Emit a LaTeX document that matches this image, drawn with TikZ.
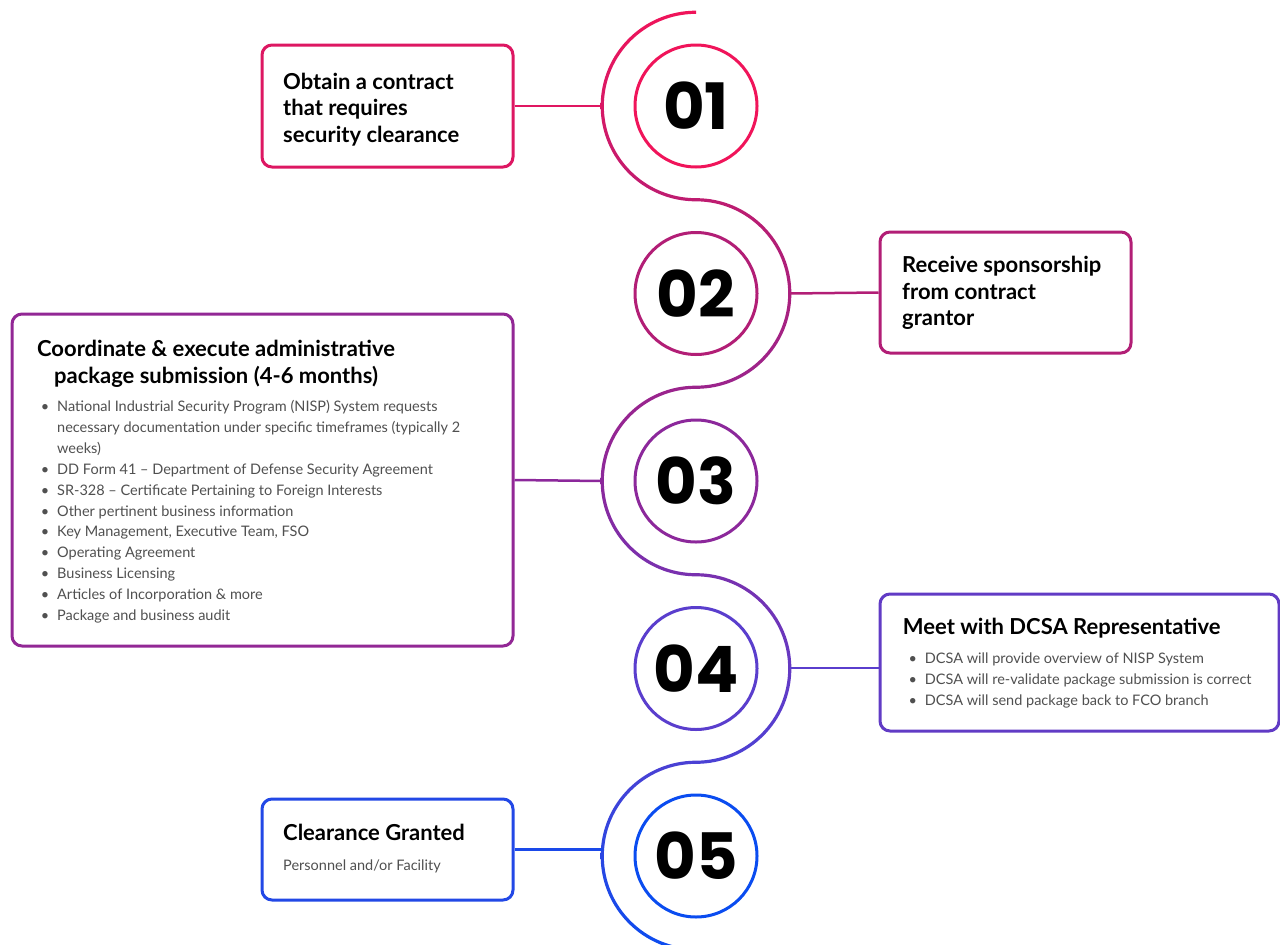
\documentclass[tikz,border=0pt]{standalone}
\usepackage{fontspec}
\setmainfont{Lato}
\newfontfamily\numfont{Poppins}
\usetikzlibrary{positioning}

% step colours, top to bottom
\definecolor{stepA}{RGB}{240,20,90}
\definecolor{stepB}{RGB}{178,30,118}
\definecolor{stepC}{RGB}{140,40,155}
\definecolor{stepD}{RGB}{90,62,205}
\definecolor{stepE}{RGB}{10,76,240}
\definecolor{bodygray}{RGB}{80,80,80}

\pgfdeclareverticalshading{snakefade}{100bp}{color(0bp)=(stepE); color(25bp)=(stepE); color(37.5bp)=(stepD); color(50bp)=(stepC); color(62.5bp)=(stepB); color(75bp)=(stepA); color(100bp)=(stepA)}

\newcommand{\itm}{\makebox[12pt][c]{\textbullet}\hspace{6pt}}
\newcommand{\cont}{\hspace*{18pt}}

\begin{document}
\begin{tikzpicture}[x=1pt, y=-1pt,
    stepbox/.style={draw, rounded corners=10pt, line width=3pt, fill=white, inner sep=0pt},
    numring/.style={circle, draw, line width=3pt, minimum size=122pt, inner sep=0pt, fill=white,
        font=\numfont\bfseries\fontsize{64}{64}\selectfont},
    headtext/.style={font=\bfseries\fontsize{22}{26.5}\selectfont, align=left, inner sep=0pt, anchor=base west},
    bodytext/.style={font=\fontsize{14.5}{20.9}\selectfont, text=bodygray, align=left, inner sep=0pt, anchor=base west},
    link/.style={line width=2.5pt}]
    \useasboundingbox (0,0) rectangle (1280,945);

    % Winding path
    \shade[shading=snakefade] (696,10.65)
        arc[start angle=270, end angle=90, radius=95.35]
        arc[start angle=-90, end angle=90, radius=92.15]
        arc[start angle=270, end angle=90, radius=95.35]
        arc[start angle=-90, end angle=90, radius=92.15]
        arc[start angle=270, end angle=90, radius=95.35]
        -- ++(0,-3.2)
        arc[start angle=90, end angle=270, radius=92.15]
        arc[start angle=90, end angle=-90, radius=95.35]
        arc[start angle=90, end angle=270, radius=92.15]
        arc[start angle=90, end angle=-90, radius=95.35]
        arc[start angle=90, end angle=270, radius=92.15]
        -- cycle;

    % Where the links meet the path
    \coordinate (t1) at (602.25,106);
    \coordinate (t2) at (789.75,293.5);
    \coordinate (t3) at (602.25,481);
    \coordinate (t4) at (789.75,668);
    \coordinate (t5) at (602.5,849.5);

    % Step boxes
    \node[stepbox, draw=stepA!70!stepB, minimum width=251pt, minimum height=122pt] (box1) at (387.5,106) {};
    \node[stepbox, draw=stepB, minimum width=251pt, minimum height=121pt] (box2) at (1005.5,292.5) {};
    \node[stepbox, draw=stepC!85!stepB, minimum width=501pt, minimum height=332pt] (box3) at (262.5,480) {};
    \node[stepbox, draw=stepD!85!stepC, minimum width=399pt, minimum height=137pt] (box4) at (1079.5,662.5) {};
    \node[stepbox, draw=stepE!70!stepD, minimum width=251pt, minimum height=101pt] (box5) at (387.5,849.5) {};

    % Links
    \draw[link, stepA!75!stepB] (box1.east) -- (t1);
    \draw[link, stepB] (t2) -- (box2.west);
    \draw[link, stepC] (box3.east) -- (t3);
    \draw[link, stepD] (t4) -- (t4 -| box4.west);
    \draw[link, stepE!80!stepD] (box5.east |- t5) -- (t5);

    % Numbered rings
    \node[numring, draw=stepA] (n1) at (696,106) {01};
    \node[numring, draw=stepB] (n2) at (696,293.5) {02};
    \node[numring, draw=stepC] (n3) at (696,481) {03};
    \node[numring, draw=stepD] (n4) at (696,668.5) {04};
    \node[numring, draw=stepE] (n5) at (696,856) {05};

    % Step 1 (anchored on the last line)
    \node[headtext] (head1) at (283,142.3) {Obtain a contract\\that requires\\security clearance};

    % Step 2
    \node[headtext] (head2) at (902,325.8) {Receive sponsorship\\from contract\\grantor};

    % Step 3
    \node[headtext, align=center, anchor=base] (head3) at (216,383.2) {Coordinate \& execute administrative\\package submission (4-6 months)};
    \node[bodytext] (list3) at (39,620.5) {\itm National Industrial Security Program (NISP) System requests\\
        \cont necessary documentation under specific timeframes (typically 2\\
        \cont weeks)\\
        \itm DD Form 41 – Department of Defense Security Agreement\\
        \itm SR-328 – Certificate Pertaining to Foreign Interests\\
        \itm Other pertinent business information\\
        \itm Key Management, Executive Team, FSO\\
        \itm Operating Agreement\\
        \itm Business Licensing\\
        \itm Articles of Incorporation \& more\\
        \itm Package and business audit};

    % Step 4
    \node[headtext] (head4) at (902.7,634) {Meet with DCSA Representative};
    \node[bodytext] (list4) at (906.7,705.1) {\itm DCSA will provide overview of NISP System\\
        \itm DCSA will re-validate package submission is correct\\
        \itm DCSA will send package back to FCO branch};

    % Step 5
    \node[headtext] (head5) at (283,840) {Clearance Granted};
    \node[bodytext] (note5) at (283,870) {Personnel and/or Facility};
\end{tikzpicture}
\end{document}
